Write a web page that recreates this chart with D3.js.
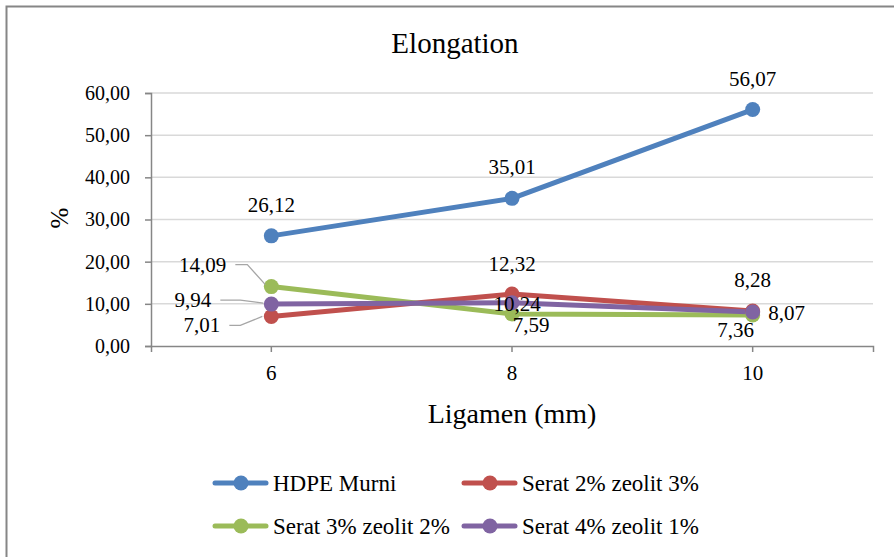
<!DOCTYPE html>
<html>
<head>
<meta charset="utf-8">
<script src="https://cdn.jsdelivr.net/npm/d3@7"></script>
<style>
  body { margin: 0; background: #fff; }
  svg { display: block; }
  text { font-family: "Liberation Serif", "Times New Roman", serif; fill: #000; }
</style>
</head>
<body>
<svg id="chart" width="894" height="557"></svg>
<script>
// Data
const categories = ["6", "8", "10"];
const seriesNames = ["HDPE Murni", "Serat 2% zeolit 3%", "Serat 3% zeolit 2%", "Serat 4% zeolit 1%"];
const hdpe = [26.12, 35.01, 56.07];
const serat2 = [7.01, 12.32, 8.28];
const serat3 = [14.09, 7.59, 7.36];
const serat4 = [9.94, 10.24, 8.07];
const yTicks = [0, 10, 20, 30, 40, 50, 60];

const colors = ["#4f81bd", "#c0504d", "#9bbb59", "#8064a2"];
const allSeries = [hdpe, serat2, serat3, serat4];

// label placement per point: [dx, dy of baseline] from the marker (centred text),
// or ["lead", text right dx, baseline dy, knee dx, end dx, end dy] for labels pulled left with a leader
const labelPos = [
  [[0, -24], [0, -24], [0, -24]],
  [["lead", -51, 16, -31, -9, 0], [0, -23], [0, -24]],
  [["lead", -45, -15, -24, -6, -2], [19, 18], [-17, 22]],
  [["lead", -60, 3, -31, -8, -1], [5, 8], [34, 8]]
];

const svg = d3.select("#chart");
const FONT = '"Liberation Serif"';
const fmt = v => v.toFixed(2).replace(".", ",");

// outer frame
svg.append("rect")
  .attr("x", 6.5).attr("y", 6.5)
  .attr("width", 900).attr("height", 600)
  .attr("fill", "none").attr("stroke", "#868686").attr("stroke-width", 2);

const plotLeft = 151, plotRight = 873, plotTop = 93, plotBottom = 346;

const x = d3.scaleBand().domain(categories).range([plotLeft, plotRight]);
const y = d3.scaleLinear().domain([0, 60]).range([plotBottom, plotTop]);
const cx = c => x(c) + x.bandwidth() / 2;

// gridlines
svg.append("g").selectAll("line")
  .data(yTicks.filter(t => t > 0))
  .enter().append("line")
  .attr("x1", plotLeft).attr("x2", plotRight)
  .attr("y1", d => y(d)).attr("y2", d => y(d))
  .attr("stroke", "#d9d9d9").attr("stroke-width", 1.5);

// y axis
const yAxis = svg.append("g")
  .attr("transform", `translate(${plotLeft},0)`)
  .call(d3.axisLeft(y).tickValues(yTicks).tickSize(6).tickSizeOuter(6).tickPadding(15).tickFormat(fmt));
yAxis.select(".domain").attr("stroke", "#868686").attr("stroke-width", 1.5);
yAxis.selectAll(".tick line").attr("stroke", "#868686").attr("stroke-width", 1.5);
yAxis.selectAll("text").attr("font-size", 20).attr("fill", "#000").style("font-family", FONT);

// x axis
const xAxis = svg.append("g")
  .attr("transform", `translate(0,${plotBottom})`)
  .call(d3.axisBottom(x).tickSize(6).tickSizeOuter(6).tickPadding(13));
xAxis.select(".domain").attr("stroke", "#868686").attr("stroke-width", 1.5);
xAxis.selectAll(".tick line").attr("stroke", "#868686").attr("stroke-width", 1.5);
xAxis.selectAll("text").attr("font-size", 21).attr("fill", "#000").style("font-family", FONT);

// titles
svg.append("text")
  .attr("x", 455).attr("y", 53)
  .attr("text-anchor", "middle").attr("font-size", 29)
  .style("font-family", FONT)
  .text("Elongation");

svg.append("text")
  .attr("x", 512).attr("y", 423)
  .attr("text-anchor", "middle").attr("font-size", 28)
  .style("font-family", FONT)
  .text("Ligamen (mm)");

svg.append("text")
  .attr("transform", "translate(68,218) rotate(-90)")
  .attr("text-anchor", "middle").attr("font-size", 25)
  .style("font-family", FONT)
  .text("%");

// lines
const line = d3.line()
  .x((d, i) => cx(categories[i]))
  .y(d => y(d));

allSeries.forEach((vals, s) => {
  svg.append("path")
    .datum(vals)
    .attr("d", line)
    .attr("fill", "none")
    .attr("stroke", colors[s])
    .attr("stroke-width", 5)
    .attr("stroke-linejoin", "round");
});

// markers
allSeries.forEach((vals, s) => {
  svg.append("g").selectAll("circle")
    .data(vals)
    .enter().append("circle")
    .attr("cx", (d, i) => cx(categories[i]))
    .attr("cy", d => y(d))
    .attr("r", 7.5)
    .attr("fill", colors[s]);
});

// data labels
allSeries.forEach((vals, s) => {
  vals.forEach((v, i) => {
    const px = cx(categories[i]), py = y(v);
    const p = labelPos[s][i];
    if (p[0] === "lead") {
      const tx = px + p[1], ty = py + p[2];
      const ly = ty - 7;
      svg.append("polyline")
        .attr("points", [[tx + 9, ly], [px + p[3], ly], [px + p[4], py + p[5]]].map(q => q.join(",")).join(" "))
        .attr("fill", "none").attr("stroke", "#a6a6a6").attr("stroke-width", 1.3);
      svg.append("text")
        .attr("x", tx).attr("y", ty)
        .attr("text-anchor", "end").attr("font-size", 21)
        .style("font-family", FONT)
        .text(fmt(v));
    } else {
      svg.append("text")
        .attr("x", px + p[0]).attr("y", py + p[1])
        .attr("text-anchor", "middle").attr("font-size", 21)
        .style("font-family", FONT)
        .text(fmt(v));
    }
  });
});

// legend
const legendItems = [
  { s: 0, x: 213, y: 483 },
  { s: 1, x: 462, y: 483 },
  { s: 2, x: 213, y: 526 },
  { s: 3, x: 462, y: 526 }
];
const lg = svg.append("g").selectAll("g")
  .data(legendItems)
  .enter().append("g")
  .attr("transform", d => `translate(${d.x},${d.y})`);
lg.append("line")
  .attr("x1", 2).attr("x2", 53)
  .attr("stroke", d => colors[d.s]).attr("stroke-width", 5).attr("stroke-linecap", "round");
lg.append("circle")
  .attr("cx", 28).attr("r", 7.5)
  .attr("fill", d => colors[d.s]);
lg.append("text")
  .attr("x", 60).attr("y", 8)
  .attr("font-size", 23)
  .style("font-family", FONT)
  .text(d => seriesNames[d.s]);
</script>
</body>
</html>
